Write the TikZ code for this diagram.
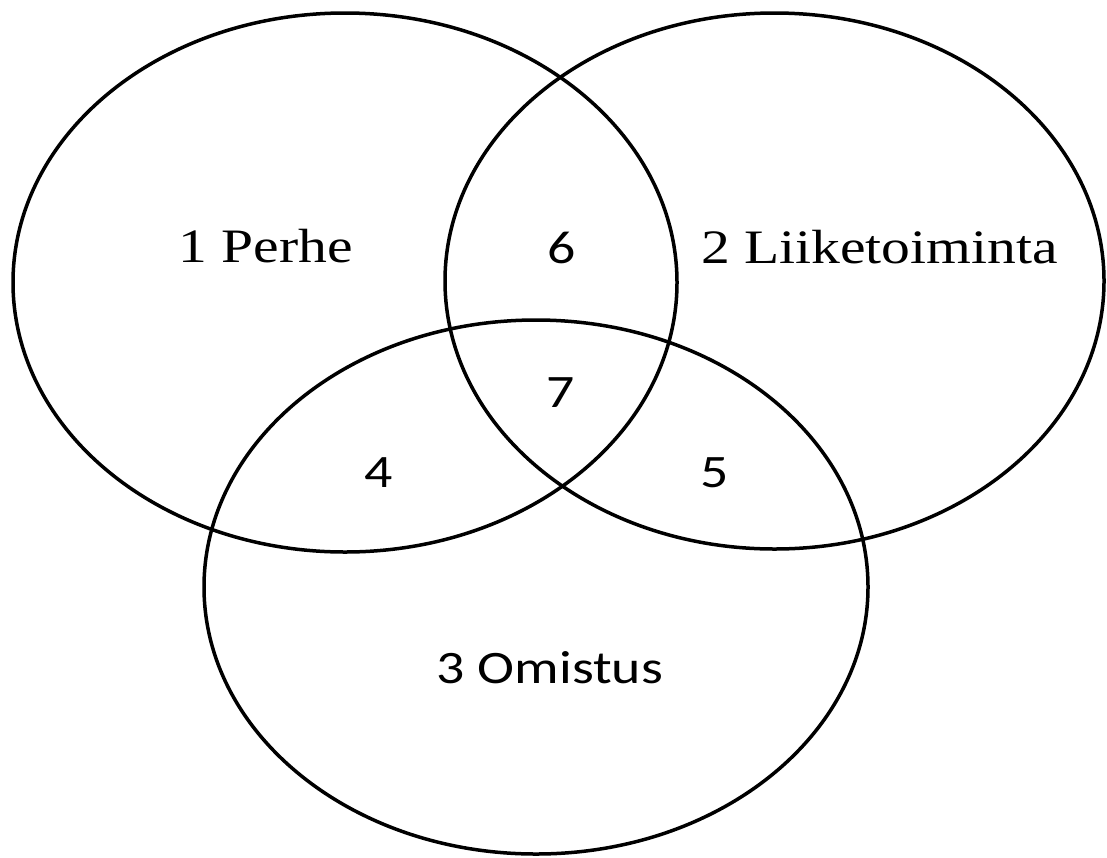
\documentclass[tikz,border=0pt]{standalone}
\usepackage{fontspec}
\newfontfamily\serifF{Liberation Serif}
\newfontfamily\sansF{Carlito}
\tikzset{
  venn/.style={draw=black, line width=3.5pt},
  serlabel/.style={anchor=base, inner sep=0pt, font=\serifF\fontsize{48}{58}\selectfont},
  sanlabel/.style={anchor=base, inner sep=0pt, font=\sansF\fontsize{46.5}{56}\selectfont}
}
\newcommand{\wide}[1]{\scalebox{1.2}[1]{#1}}
\begin{document}
\begin{tikzpicture}[x=1pt,y=-1pt]
\useasboundingbox (0,0) rectangle (1107,857);
\draw[venn] (345,282.5) ellipse [x radius=332pt, y radius=269.5pt];
\draw[venn] (774.5,281) ellipse [x radius=329.5pt, y radius=268pt];
\draw[venn] (536,587) ellipse [x radius=332pt, y radius=267pt];
\node[serlabel] (perhe) at (265.5,262) {\wide{1 Perhe}};
\node[serlabel] (liike) at (879.5,263) {\wide{2 Liiketoiminta}};
\node[sanlabel] (omistus) at (550,683) {\wide{3 Omistus}};
\node[sanlabel] (n6) at (562,263) {\wide{6}};
\node[sanlabel] (n7) at (561,407) {\wide{7}};
\node[sanlabel] (n4) at (379,487) {\wide{4}};
\node[sanlabel] (n5) at (715,487) {\wide{5}};
\end{tikzpicture}
\end{document}
